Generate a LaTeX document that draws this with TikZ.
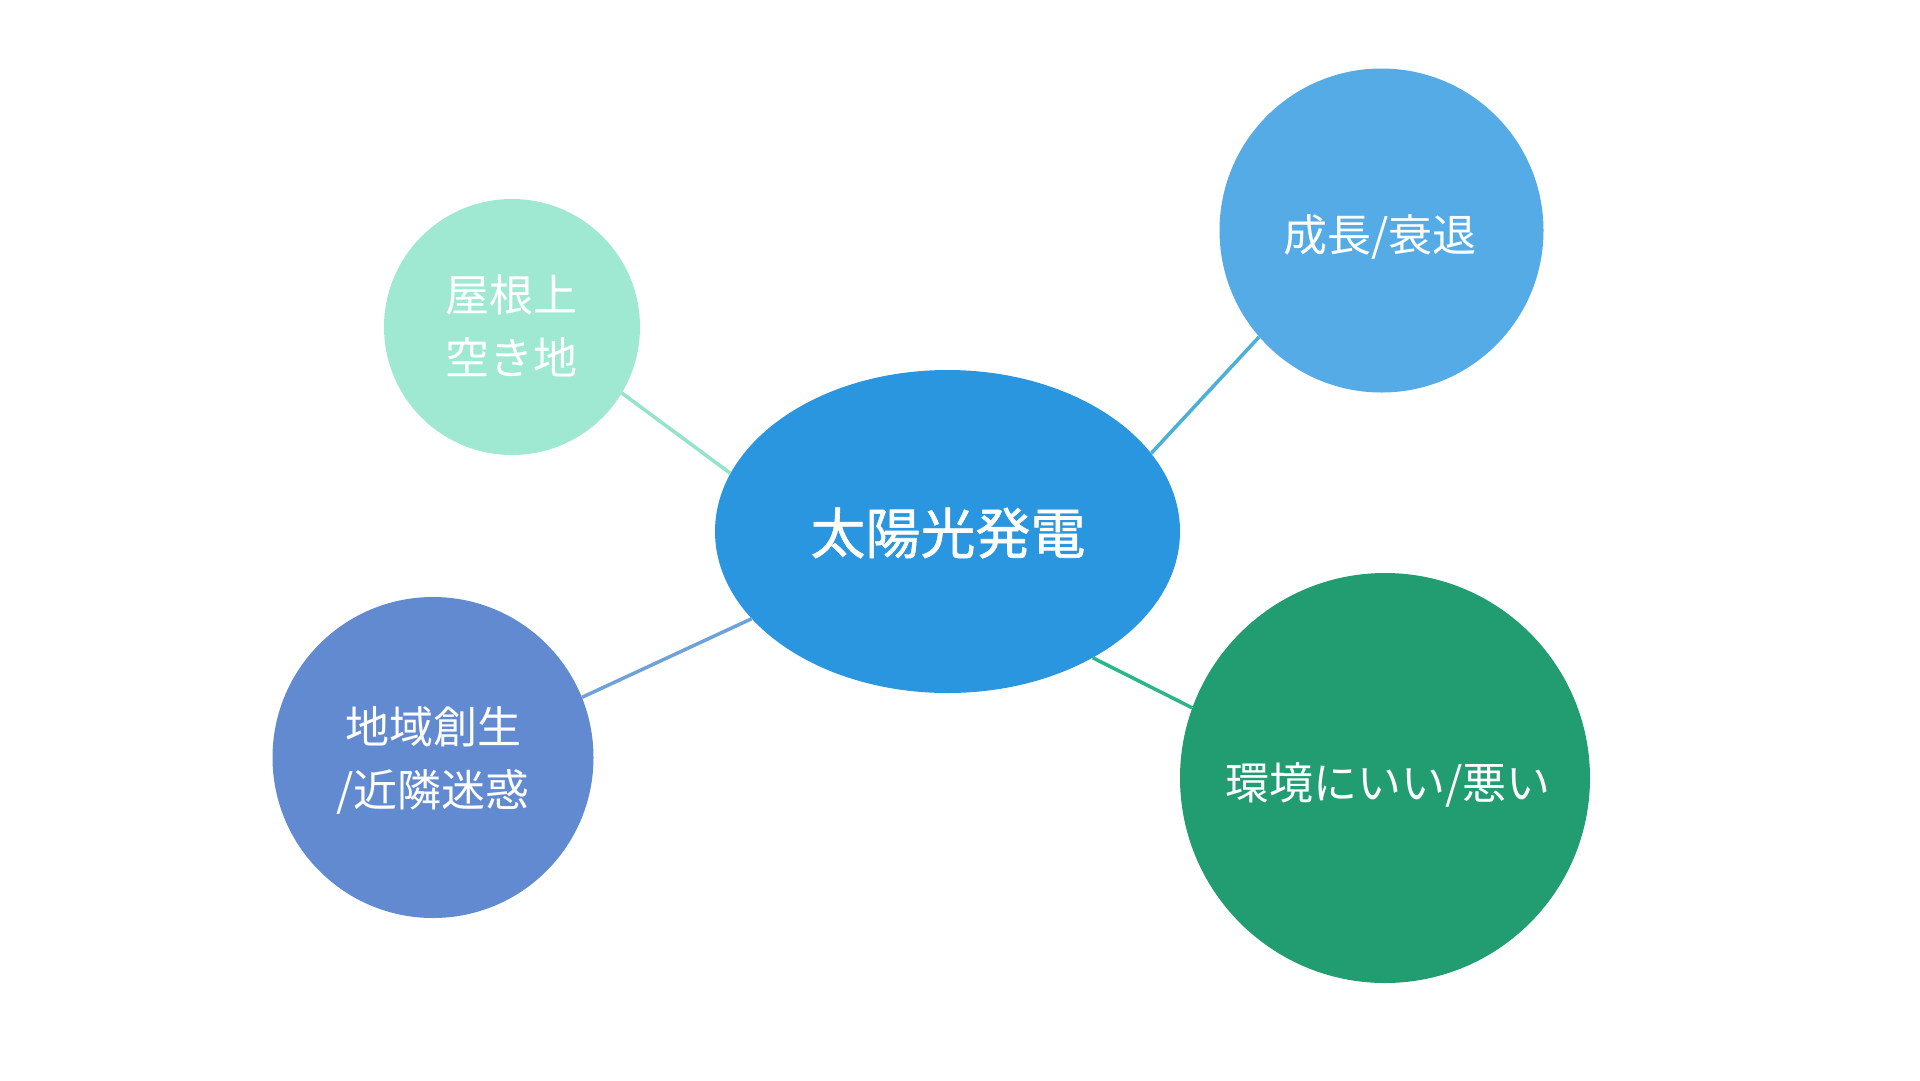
\documentclass[tikz,border=0pt]{standalone}
\usepackage{fontspec}
\setmainfont{Noto Sans CJK JP}
\newfontfamily\hubfont{Noto Sans CJK JP}[FakeBold=1]
\usetikzlibrary{shapes.geometric}
\definecolor{cMint}{HTML}{9FE9D2}
\definecolor{cCenter}{HTML}{2A96E0}
\definecolor{cSky}{HTML}{55ABE6}
\definecolor{cSlate}{HTML}{628AD0}
\definecolor{cGreen}{HTML}{229C71}
\definecolor{lMint}{HTML}{93E4CA}
\definecolor{lSky}{HTML}{4BB0D6}
\definecolor{lSlate}{HTML}{70A2DA}
\definecolor{lGreen}{HTML}{2BB685}
\tikzset{
  bubble/.style={circle, inner sep=0pt, draw=none},
  hub/.style={ellipse, inner sep=0pt, draw=none, fill=cCenter, minimum width=465pt, minimum height=323pt},
  leaftext/.style={text=white, font=\fontsize{44}{63}\selectfont, align=center, inner sep=0pt},
  hubtext/.style={text=white, font=\hubfont\fontsize{55}{66}\selectfont, inner sep=0pt},
  link/.style={line width=3.5pt}
}
\begin{document}
\begin{tikzpicture}[x=1pt, y=-1pt]
\path[use as bounding box, fill=white] (0,0) rectangle (1920,1080);
\node[hub] (hub) at (947.5,531.5) {};
\node[bubble, fill=cMint, minimum size=256pt] (roof) at (512,327) {};
\node[bubble, fill=cSky, minimum size=324pt] (grow) at (1381.5,230.5) {};
\node[bubble, fill=cSlate, minimum size=321pt] (local) at (433,757.5) {};
\node[bubble, fill=cGreen, minimum size=410pt] (env) at (1385,778) {};
\draw[link, lMint] (roof.-31) -- (hub.165.9);
\draw[link, lSky] (grow.221.5) -- (hub.21.2);
\draw[link, lSlate] (local.22.4) -- (hub.204.9);
\draw[link, lGreen] (env.160.6) -- (hub.-41.6);
\node[hubtext] (hubt) at (948,533) {太陽光発電};
\node[leaftext] (roofT) at (511,326) {屋根上\\空き地};
\node[leaftext] (growT) at (1380,237) {成長/衰退};
\node[leaftext] (localT) at (433,760) {地域創生\\/近隣迷惑};
\node[leaftext] (envT) at (1388,785) {環境にいい/悪い};
\end{tikzpicture}
\end{document}
